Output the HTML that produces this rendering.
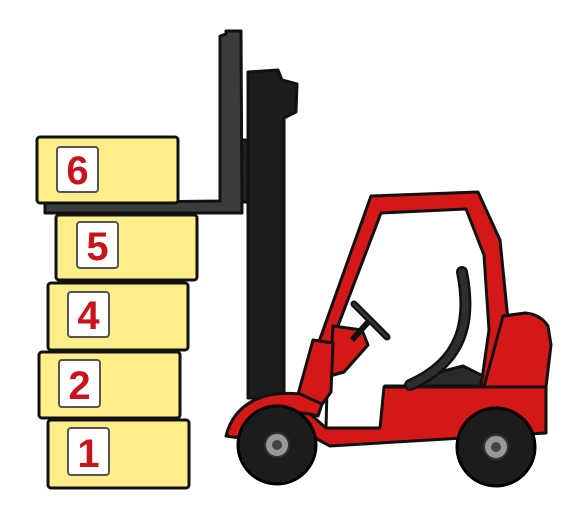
<!DOCTYPE html>
<html><head><meta charset="utf-8"><style>
html,body{margin:0;padding:0;background:#fff;width:582px;height:517px;overflow:hidden}
svg{display:block}
text{font-family:"Liberation Sans",sans-serif;font-weight:bold;font-size:40px;fill:#c8141c}
</style></head><body>
<svg width="582" height="517" viewBox="0 0 582 517">
<g stroke="#111" stroke-width="3" stroke-linejoin="round">
  <rect x="238" y="140" width="12" height="62" fill="#222"/>
  <path d="M248,72 L278,70 L282,80 L297,84 L296,112 L284,118 L284,398 L248,398 Z" fill="#1c1c1c"/>
  <path d="M220,36 L226,34 L226,31 L241,31 L242,213 L45,213 L45,203 L220,201 Z" fill="#3c3c3c"/>
  <rect x="37" y="137" width="141" height="66" rx="3" fill="#fdee8a"/>
  <rect x="56" y="215" width="141" height="65" rx="3" fill="#fdee8a"/>
  <rect x="48" y="283" width="140" height="67" rx="3" fill="#fdee8a"/>
  <rect x="39" y="352" width="141" height="66" rx="3" fill="#fdee8a"/>
  <rect x="48" y="420" width="141" height="68" rx="3" fill="#fdee8a"/>
</g>
<g stroke="#555" stroke-width="2" fill="#fff">
  <rect x="57" y="147" width="41" height="45" rx="3"/>
  <rect x="77" y="222" width="41" height="46" rx="3"/>
  <rect x="68" y="292" width="41" height="45" rx="3"/>
  <rect x="59" y="360" width="41" height="47" rx="3"/>
  <rect x="68" y="428" width="41" height="47" rx="3"/>
</g>
<text x="77.5" y="184" text-anchor="middle">6</text>
<text x="97.5" y="260" text-anchor="middle">5</text>
<text x="88.5" y="329" text-anchor="middle">4</text>
<text x="79.5" y="399" text-anchor="middle">2</text>
<text x="88.5" y="467" text-anchor="middle">1</text>
<g stroke="#111" stroke-width="3" stroke-linejoin="round" fill="#d41818">
  <path d="M316,350 L371,196 L478,192 L500,240 L508,320 L490,388 L383,388 Z"/>
  <path d="M328,352 L381,213 L466,209 L484,255 L489,330 L481,386 L385,386 L382,428 L326,428 Z" fill="#fff"/>
  <path d="M503,316 L525,313 Q540,314 548,326 L551,345 L546,387 L484,387 Z"/>
  <path d="M300,405 L326,428 L380,428 L384,387 L546,387 L546,433 L330,446 L300,430 Z"/>
  <path d="M333,326 L362,330 L368,345 L344,372 L330,376 Z"/>
  <path d="M313,340 L333,343 L331,392 L318,410 L297,398 Z"/>
  <path d="M226,436 C234,404 262,390 300,394 L322,404 L318,416 C290,408 260,414 240,438 Z"/>
  <path d="M405,386 L440,372 L463,366 L483,376 L480,386 Z" fill="#2a2a2a"/>
</g>
<path d="M462,272 C472,322 462,362 410,385" fill="none" stroke="#111" stroke-width="12" stroke-linecap="round"/>
<path d="M462,272 C472,322 462,362 410,385" fill="none" stroke="#2e2e2e" stroke-width="7" stroke-linecap="round"/>
<line x1="370" y1="320" x2="352" y2="340" stroke="#111" stroke-width="6"/>
<line x1="354" y1="304" x2="387" y2="337" stroke="#111" stroke-width="7" stroke-linecap="round"/>
<line x1="354" y1="304" x2="387" y2="337" stroke="#333" stroke-width="3" stroke-linecap="round"/>
<g>
  <circle cx="277" cy="445" r="39" fill="#1c1c1c" stroke="#000" stroke-width="3"/>
  <circle cx="277" cy="445" r="12" fill="#999" stroke="#333" stroke-width="2"/>
  <circle cx="277" cy="445" r="5" fill="#444"/>
</g>
<g>
  <circle cx="496" cy="447" r="39" fill="#1c1c1c" stroke="#000" stroke-width="3"/>
  <circle cx="496" cy="447" r="12" fill="#999" stroke="#333" stroke-width="2"/>
  <circle cx="496" cy="447" r="5" fill="#444"/>
</g>
</svg>
</body></html>
